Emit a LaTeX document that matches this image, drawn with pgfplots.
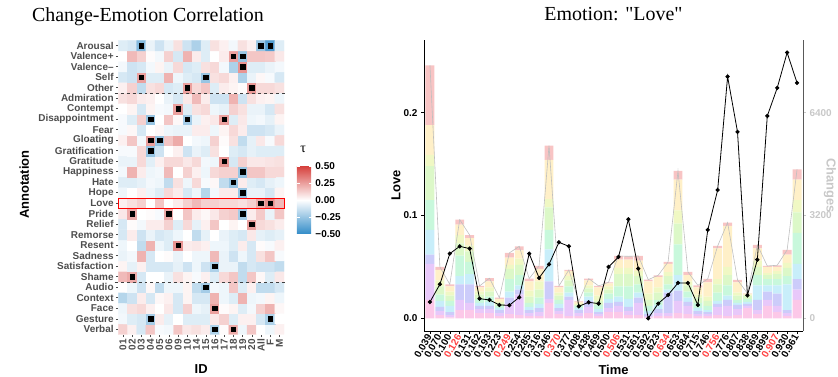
\documentclass[border=0pt]{standalone}
\usepackage{pgfplots}
\pgfplotsset{compat=1.18}
\usepackage{pgfplotstable}
\usepackage{fontspec}
\setmainfont{Liberation Serif}
\newfontfamily\lsans{Liberation Sans}
\newfontfamily\titlefont{Liberation Serif}
\definecolor{g30}{HTML}{4D4D4D}
\definecolor{gchg}{HTML}{C8C8C8}
\definecolor{tred}{HTML}{FF4040}
\definecolor{c1}{HTML}{FCC8E8}
\definecolor{c2}{HTML}{E8C8FA}
\definecolor{c3}{HTML}{CCCCFA}
\definecolor{c4}{HTML}{C8EEFA}
\definecolor{c5}{HTML}{C8F8DC}
\definecolor{c6}{HTML}{DCF8C8}
\definecolor{c7}{HTML}{F0F8C4}
\definecolor{c8}{HTML}{FFF0C8}
\definecolor{c9}{HTML}{F8C4C4}
\newcommand{\tl}{\lsans\bfseries\fontsize{10}{12}\selectfont}
\newcommand{\al}{\lsans\bfseries\fontsize{13}{15}\selectfont}

\pgfplotstableread{
x l1 l2 l3 l4 l5 l6 l7 l8 l9 tot chg
1 .018 .035 .009 .024 .029 .033 .011 .029 .058 .246 508
2 .003 .004 .004 .006 .006 .008 .006 .010 .003 .050 1058
3 .001 .002 .003 .006 .005 .005 .004 .005 .002 .033 2013
4 .008 .010 .015 .008 .020 .012 .008 .010 .005 .096 2241
5 .008 .007 .018 .010 .012 .010 .006 .007 .003 .081 2169
6 .005 .004 .003 .003 .004 .004 .003 .004 .0015 .0315 612
7 .005 .004 .003 .004 .005 .005 .004 .006 .003 .039 571
8 .002 .003 .003 .002 .002 .002 .002 .003 .001 .020 415
9 .004 .010 .006 .006 .012 .010 .004 .007 .0046 .0636 405
10 .003 .020 .005 .004 .010 .010 .006 .008 .004 .070 654
11 .002 .003 .003 .003 .004 .006 .006 .009 .0026 .0386 2013
12 .002 .004 .004 .004 .006 .008 .008 .012 .003 .051 1256
13 .015 .004 .017 .031 .019 .022 .008 .038 .014 .168 1681
14 .004 .003 .003 .004 .004 .004 .003 .005 .0015 .0315 2366
15 .002 .016 .003 .004 .006 .006 .004 .005 .001 .047 2241
16 .002 .003 .003 .002 .002 .001 .001 .002 .0005 .0165 374
17 .005 .006 .006 .004 .004 .004 .003 .005 .0016 .0386 498
18 .002 .002 .002 .003 .004 .004 .005 .008 .0015 .0315 457
19 .006 .004 .005 .004 .005 .004 .003 .003 .001 .035 1598
20 .006 .006 .004 .005 .010 .012 .006 .008 .0036 .0606 1909
21 .003 .004 .004 .008 .012 .012 .006 .008 .0033 .0603 3082
22 .003 .012 .005 .005 .008 .008 .005 .010 .0046 .0606 1546
23 .001 .001 .002 .003 .005 .006 .006 .012 .0016 .0376 0
24 .002 .003 .004 .004 .005 .007 .005 .010 .0018 .0418 457
25 .002 .003 .020 .003 .005 .008 .004 .008 .0018 .0548 726
26 .005 .012 .010 .015 .030 .020 .013 .030 .0083 .1433 1100
27 .004 .008 .004 .004 .006 .006 .004 .006 .0031 .0451 1100
28 .002 .002 .003 .003 .005 .005 .003 .007 .0021 .0321 415
29 .002 .002 .002 .002 .004 .005 .004 .014 .0033 .0383 2750
30 .003 .008 .003 .003 .008 .008 .005 .030 .0024 .0704 3995
31 .002 .010 .006 .004 .010 .010 .008 .040 .0031 .0931 7523
32 .003 .006 .004 .002 .003 .004 .003 .010 .0023 .0373 5800
33 .010 .002 .002 .002 .003 .003 .001 .001 .0003 .0243 716
34 .004 .004 .010 .014 .010 .008 .006 .012 .0033 .0713 1826
35 .012 .006 .008 .006 .006 .004 .002 .006 .0009 .0509 6298
36 .006 .006 .012 .008 .006 .005 .003 .004 .0016 .0516 7170
37 .002 .003 .003 .025 .008 .008 .005 .008 .0045 .0665 8270
38 .018 .010 .010 .015 .030 .020 .012 .020 .0099 .1449 7326
}\bars

\begin{document}
\begin{tikzpicture}
\useasboundingbox (0,0) rectangle (838bp,377bp);
%================ heatmap
\begin{axis}[
  at={(118.3bp,42.5bp)}, anchor=south west, scale only axis,
  width=165.7bp, height=294bp,
  xmin=-0.5, xmax=17.5, ymin=-0.5, ymax=27.5,
  axis line style={draw=none},
  tick pos=left, tick align=outside, major tick length=2.5bp,
  tick style={g30, line width=0.5bp},
  xtick={0,...,17},
  xticklabels={01,02,03,04,05,06,09,10,14,15,16,17,18,19,20,All,F,M},
  ytick={0,...,27},
  yticklabels={Verbal,Gesture,Face,Context,Audio,Shame,Satisfaction,Sadness,Resent,Remorse,Relief,Pride,Love,Hope,Hate,Happiness,Gratitude,Gratification,Gloating,Fear,Disappointment,Contempt,Admiration,Other,Self,Valence–,Valence+,Arousal},
  x tick label style={rotate=90, anchor=east, font=\tl, text=g30, inner sep=2bp},
  y tick label style={font=\tl, text=g30, inner sep=2bp},
  xlabel={ID}, ylabel={Annotation},
  xlabel style={font=\al, at={(0.5,0)}, anchor=base, yshift=-39bp},
  ylabel style={font=\al, at={(-0.567,0.51)}, anchor=center},
  title={Change-Emotion Correlation},
  title style={font=\titlefont\fontsize{20}{22}\selectfont, at={(0.179,1)}, anchor=base, yshift=13.5bp},
  colormap={rdbu}{rgb255=(50,140,200) rgb255=(255,255,255) rgb255=(214,64,60)},
  point meta min=-0.5, point meta max=0.5,
  colorbar,
  colorbar style={
    at={(1.078,0.4575)}, anchor=west,
    scale only axis, width=15bp, height=68bp,
    ytick={-0.5,-0.25,0,0.25,0.5},
    yticklabels={−0.50,−0.25,0.00,0.25,0.50},
    yticklabel style={font=\tl, text=black},
    axis line style={draw=none},
    ytick pos=both, yticklabel pos=right,
    tick align=inside, major tick length=3bp,
    tick style={white, line width=0.6bp},
    title={τ}, title style={font=\fontsize{14}{14}\selectfont, at={(0,1)}, anchor=base west, yshift=8bp},
  },
  clip=false,
]
\addplot[matrix plot*, mesh/cols=18, mesh/rows=28, point meta=explicit]
 table[row sep=\\, x expr={\coordindex-18*floor((\coordindex+0.5)/18)}, y expr={floor((\coordindex+0.5)/18)}, meta=c] {
c\\
0.12\\ 0.04\\ -0.1\\ 0.15\\ -0.02\\ -0.03\\ 0.15\\ 0.06\\ 0.08\\ 0.05\\ -0.2\\ 0.01\\ 0.22\\ -0.04\\ 0.15\\ 0\\ -0.04\\ 0.04\\
-0.03\\ -0.08\\ -0.1\\ -0.22\\ 0.05\\ -0.06\\ 0\\ -0.08\\ -0.08\\ -0.08\\ 0.06\\ 0.12\\ -0.08\\ 0.04\\ 0.04\\ -0.1\\ -0.2\\ 0\\
-0.04\\ 0.08\\ 0.1\\ 0.04\\ 0\\ 0.06\\ -0.1\\ 0.12\\ -0.04\\ -0.06\\ 0.25\\ 0.01\\ 0.03\\ -0.08\\ -0.03\\ 0.12\\ 0.2\\ 0.02\\
-0.18\\ -0.12\\ 0.05\\ -0.1\\ 0.02\\ 0.04\\ -0.1\\ 0.03\\ -0.1\\ -0.1\\ 0.2\\ -0.04\\ -0.08\\ 0.2\\ -0.04\\ -0.03\\ 0.03\\ -0.04\\
0\\ -0.04\\ -0.12\\ 0.02\\ -0.15\\ -0.04\\ -0.04\\ 0.03\\ -0.15\\ -0.22\\ -0.03\\ -0.04\\ 0.15\\ -0.08\\ 0.04\\ -0.15\\ -0.15\\ -0.1\\
0.18\\ 0.22\\ -0.1\\ 0\\ 0\\ -0.05\\ 0.08\\ 0.03\\ -0.02\\ 0.04\\ -0.08\\ 0.1\\ 0.15\\ -0.15\\ 0.15\\ 0.02\\ -0.08\\ 0.06\\
0.03\\ -0.06\\ 0.04\\ -0.1\\ -0.1\\ -0.1\\ -0.06\\ -0.12\\ -0.04\\ -0.12\\ -0.2\\ -0.05\\ -0.05\\ -0.15\\ -0.1\\ -0.12\\ -0.12\\ -0.15\\
-0.05\\ -0.03\\ 0.2\\ -0.1\\ 0\\ 0.01\\ -0.05\\ 0\\ -0.04\\ -0.04\\ 0.18\\ -0.05\\ -0.12\\ -0.04\\ -0.1\\ 0.08\\ 0.15\\ -0.02\\
-0.04\\ 0\\ -0.15\\ 0.2\\ -0.04\\ -0.08\\ 0.28\\ 0.05\\ 0.06\\ 0.04\\ -0.04\\ -0.04\\ -0.08\\ 0.05\\ -0.1\\ 0.01\\ -0.02\\ 0.04\\
-0.1\\ 0.05\\ -0.12\\ -0.05\\ -0.1\\ -0.08\\ -0.04\\ 0\\ -0.15\\ -0.06\\ 0\\ -0.05\\ -0.08\\ -0.1\\ 0.06\\ -0.06\\ -0.08\\ -0.06\\
-0.1\\ 0.01\\ -0.03\\ 0.05\\ 0.05\\ 0.12\\ -0.08\\ 0.1\\ -0.06\\ 0.04\\ 0.15\\ 0\\ 0.03\\ 0\\ 0.25\\ 0.1\\ 0.08\\ 0.05\\
0.06\\ 0.22\\ 0\\ 0.01\\ -0.02\\ 0.22\\ 0\\ 0.15\\ 0.05\\ 0.02\\ 0.06\\ 0.12\\ 0.14\\ -0.22\\ 0.05\\ 0.14\\ -0.05\\ 0.15\\
0.04\\ 0.08\\ 0.12\\ 0\\ 0.15\\ 0\\ 0.05\\ 0.12\\ 0.18\\ 0.12\\ 0.12\\ 0.1\\ 0.1\\ 0.08\\ 0.12\\ 0.22\\ 0.3\\ 0.18\\
-0.04\\ 0\\ 0.04\\ -0.04\\ -0.08\\ 0.1\\ 0.05\\ -0.1\\ -0.04\\ -0.18\\ -0.03\\ 0.05\\ 0.05\\ -0.25\\ -0.05\\ -0.05\\ -0.1\\ 0.03\\
-0.08\\ -0.08\\ -0.06\\ -0.03\\ -0.04\\ -0.15\\ 0.08\\ -0.04\\ 0.1\\ -0.02\\ 0.02\\ -0.15\\ -0.25\\ 0.05\\ -0.08\\ -0.1\\ -0.06\\ -0.04\\
-0.03\\ 0.2\\ 0.05\\ -0.04\\ -0.03\\ 0.18\\ 0\\ 0.12\\ 0.04\\ -0.04\\ 0.1\\ 0.12\\ 0.12\\ -0.25\\ 0.15\\ 0.15\\ 0.1\\ 0.1\\
-0.05\\ -0.05\\ 0.1\\ -0.07\\ 0.04\\ 0.1\\ 0.1\\ 0.06\\ 0.1\\ -0.03\\ -0.04\\ 0.28\\ -0.1\\ 0.12\\ 0.06\\ 0.06\\ 0.07\\ 0.08\\
-0.02\\ -0.02\\ 0.1\\ -0.25\\ -0.12\\ 0\\ 0.04\\ -0.12\\ -0.05\\ -0.08\\ 0.08\\ 0\\ -0.08\\ -0.1\\ -0.06\\ -0.08\\ -0.08\\ -0.08\\
0.04\\ 0.15\\ -0.03\\ 0.25\\ -0.25\\ 0.15\\ 0.22\\ 0\\ -0.03\\ -0.04\\ 0.12\\ 0.01\\ 0.08\\ -0.15\\ -0.06\\ 0.06\\ -0.02\\ 0.1\\
-0.02\\ 0.02\\ -0.1\\ 0\\ 0.02\\ -0.04\\ -0.05\\ -0.05\\ 0.05\\ 0.05\\ -0.04\\ 0.03\\ 0.1\\ 0.05\\ -0.12\\ -0.12\\ -0.1\\ -0.05\\
-0.02\\ -0.08\\ 0.12\\ -0.25\\ 0\\ 0.15\\ 0.02\\ -0.22\\ -0.05\\ 0.04\\ 0.06\\ 0.25\\ -0.08\\ 0.06\\ -0.04\\ -0.03\\ -0.06\\ 0.03\\
0\\ 0.03\\ -0.1\\ 0.03\\ -0.02\\ -0.03\\ 0.25\\ -0.08\\ 0.08\\ 0.1\\ -0.04\\ -0.06\\ 0.12\\ 0.08\\ -0.05\\ -0.05\\ -0.1\\ 0.08\\
0.08\\ 0.1\\ 0.05\\ 0.04\\ 0\\ -0.05\\ -0.1\\ 0.06\\ 0.18\\ 0.05\\ -0.12\\ -0.12\\ 0.2\\ -0.12\\ 0.08\\ 0.04\\ 0.03\\ -0.04\\
0.04\\ 0.12\\ -0.15\\ 0.08\\ 0.1\\ -0.1\\ -0.08\\ 0.25\\ 0.1\\ 0.15\\ -0.08\\ 0.05\\ 0.03\\ 0.01\\ 0.27\\ 0.1\\ 0.1\\ 0.08\\
-0.1\\ -0.12\\ 0.25\\ -0.08\\ -0.08\\ 0.2\\ -0.04\\ -0.08\\ -0.1\\ -0.25\\ 0.08\\ 0.1\\ 0.04\\ -0.2\\ -0.05\\ 0.02\\ -0.02\\ -0.1\\
-0.03\\ -0.12\\ -0.1\\ -0.03\\ 0.03\\ -0.05\\ 0.1\\ -0.1\\ -0.08\\ 0.08\\ 0.1\\ -0.03\\ -0.2\\ 0.28\\ -0.08\\ -0.08\\ -0.05\\ -0.03\\
0\\ 0.18\\ 0.12\\ 0.01\\ -0.03\\ 0.12\\ -0.1\\ 0.2\\ 0.05\\ -0.08\\ 0\\ 0.05\\ 0.25\\ -0.25\\ 0.15\\ 0.15\\ 0.14\\ 0.06\\
-0.08\\ -0.1\\ -0.3\\ -0.05\\ -0.12\\ -0.05\\ 0.08\\ -0.12\\ -0.2\\ -0.08\\ 0.08\\ 0.04\\ -0.03\\ 0.08\\ 0.04\\ -0.25\\ -0.42\\ -0.08\\
};
\addplot[only marks, mark=square*, mark size=2.3bp, black] coordinates {
(2,27)(15,27)(16,27)(12,26)(13,26)(13,25)(2,24)(9,24)(7,23)(14,23)
(6,21)(3,20)(7,20)(11,20)(3,18)(4,18)(3,17)(11,16)(13,15)(12,14)
(13,13)(15,12)(16,12)(1,11)(5,11)(13,11)(14,10)(6,8)(10,6)(1,5)
(9,4)(10,2)(3,1)(16,1)(10,0)(12,0)};
\draw[red, line width=0.9bp] (axis cs:-0.5,11.5) rectangle (axis cs:17.5,12.5);
\draw[dashed, black!75, line width=0.6bp] (axis cs:-0.9,22.5) -- (axis cs:17.6,22.5);
\draw[dashed, black!75, line width=0.6bp] (axis cs:-0.9,4.5) -- (axis cs:17.6,4.5);
\end{axis}

%================ right: stacked bars
\begin{axis}[
  at={(424bp,46bp)}, anchor=south west, scale only axis,
  width=379bp, height=291bp,
  xmin=0.4, xmax=38.6, ymin=-0.01235, ymax=0.2707,
  ybar stacked, bar width=0.9,
  axis lines*=left, axis line style={black, line width=0.7bp},
  tick align=outside, major tick length=3bp, tick style={black, line width=0.5bp},
  ytick={0,0.1,0.2}, yticklabels={0.0,0.1,0.2},
  xtick={1,...,38},
  xticklabels={0.039,0.070,0.100,\textcolor{tred}{0.126},0.131,0.162,0.193,0.223,\textcolor{tred}{0.249},0.254,0.285,0.316,0.346,\textcolor{tred}{0.370},0.377,0.408,0.438,0.469,0.500,\textcolor{tred}{0.506},0.531,0.561,0.592,0.623,\textcolor{tred}{0.634},0.653,0.684,0.715,0.746,\textcolor{tred}{0.756},0.776,0.807,0.838,0.869,0.899,\textcolor{tred}{0.907},0.930,0.961},
  x tick label style={rotate=60, anchor=east, font=\tl, inner sep=1.5bp},
  y tick label style={font=\tl},
  xlabel={Time}, ylabel={Love},
  xlabel style={font=\al, at={(0.5,0)}, anchor=base, yshift=-43bp},
  ylabel style={font=\al, at={(-0.074,0.5)}, anchor=center},
  title={Emotion: "Love"},
  title style={font=\titlefont\fontsize{20}{22}\selectfont, at={(0.5,1)}, anchor=base, yshift=13.5bp},
]
\addplot[fill=c1, draw=none] table[x=x, y=l1] {\bars};
\addplot[fill=c2, draw=none] table[x=x, y=l2] {\bars};
\addplot[fill=c3, draw=none] table[x=x, y=l3] {\bars};
\addplot[fill=c4, draw=none] table[x=x, y=l4] {\bars};
\addplot[fill=c5, draw=none] table[x=x, y=l5] {\bars};
\addplot[fill=c6, draw=none] table[x=x, y=l6] {\bars};
\addplot[fill=c7, draw=none] table[x=x, y=l7] {\bars};
\addplot[fill=c8, draw=none] table[x=x, y=l8] {\bars};
\addplot[fill=c9, draw=none] table[x=x, y=l9] {\bars};
\end{axis}

%================ right: gray totals line
\begin{axis}[
  at={(424bp,46bp)}, anchor=south west, scale only axis,
  width=379bp, height=291bp,
  xmin=0.4, xmax=38.6, ymin=-0.01235, ymax=0.2707,
  hide axis,
]
\addplot[black!25, line width=0.6bp, mark=none] table[x=x, y=tot] {\bars};
\end{axis}

%================ right: changes line
\begin{axis}[
  at={(424bp,46bp)}, anchor=south west, scale only axis,
  width=379bp, height=291bp,
  xmin=0.4, xmax=38.6, ymin=-395, ymax=8662,
  axis x line=none, axis y line*=right,
  axis line style={black!65, line width=0.7bp},
  tick align=outside, major tick length=3bp, tick style={gchg, line width=0.5bp},
  ytick={0,3200,6400}, yticklabels={0,3200,6400},
  y tick label style={font=\tl, text=gchg},
  ylabel={Changes},
  ylabel style={font=\al, text=gchg, at={(1.071,0.5)}, anchor=center, rotate=180},
]
\addplot[black, line width=0.8bp, mark=*, mark size=1.7bp] table[x=x, y=chg] {\bars};
\end{axis}
\end{tikzpicture}
\end{document}
